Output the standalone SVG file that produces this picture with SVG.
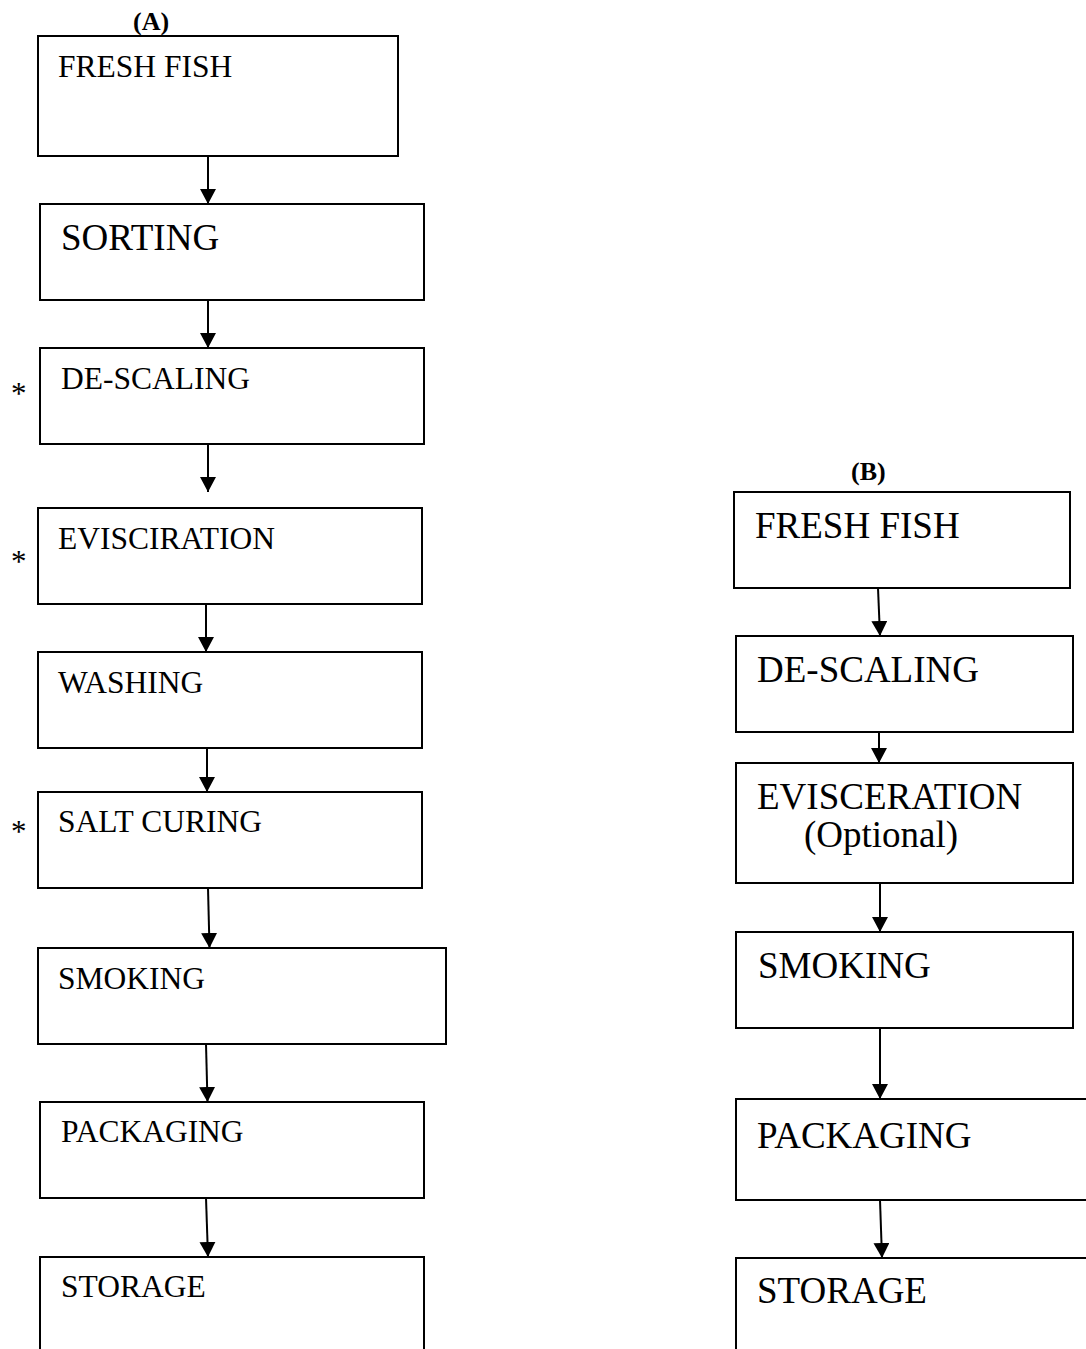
<svg xmlns="http://www.w3.org/2000/svg" width="1086" height="1349" viewBox="0 0 1086 1349">
<style>
  .box { fill: #fff; stroke: #000; stroke-width: 2; }
  .t { font-family: "Liberation Serif", "Times New Roman", serif; fill: #000; }
  .s { font-size: 31.5px; }
  .l { font-size: 37px; }
  .h { font-size: 26px; font-weight: bold; }
  .ast { font-size: 31px; }
  .arr { stroke: #000; stroke-width: 2; fill: none; marker-end: url(#ah); }
</style>
<defs>
  <marker id="ah" markerUnits="userSpaceOnUse" markerWidth="17" markerHeight="17" refX="15" refY="8" orient="auto">
    <path d="M0,0 L15,8 L0,16 z" fill="#000"/>
  </marker>
</defs>
<rect width="1086" height="1349" fill="#fff"/>

<g id="connectors">
  <line class="arr" x1="208" y1="156" x2="208" y2="204"/>
  <line class="arr" x1="208" y1="300" x2="208" y2="348"/>
  <line class="arr" x1="208" y1="444" x2="208" y2="492"/>
  <line class="arr" x1="206" y1="604" x2="206" y2="652"/>
  <line class="arr" x1="207" y1="748" x2="207" y2="792"/>
  <line class="arr" x1="208" y1="888" x2="209.5" y2="948"/>
  <line class="arr" x1="206" y1="1044" x2="207.5" y2="1102"/>
  <line class="arr" x1="206" y1="1198" x2="208" y2="1257"/>
  <line class="arr" x1="878" y1="588" x2="880" y2="636"/>
  <line class="arr" x1="879" y1="732" x2="879" y2="763"/>
  <line class="arr" x1="880" y1="883" x2="880" y2="932"/>
  <line class="arr" x1="880" y1="1028" x2="880" y2="1099"/>
  <line class="arr" x1="880" y1="1200" x2="882" y2="1258"/>
</g>

<g id="labels">
  <text class="t h" x="133" y="30">(A)</text>
  <text class="t h" x="851" y="480">(B)</text>
  <text class="t ast" x="11" y="404">*</text>
  <text class="t ast" x="11" y="572">*</text>
  <text class="t ast" x="11" y="842">*</text>
</g>

<g id="a-fresh-fish"><rect class="box" x="38" y="36" width="360" height="120"/><text class="t s" x="58" y="77">FRESH FISH</text></g>
<g id="a-sorting"><rect class="box" x="40" y="204" width="384" height="96"/><text class="t l" x="61" y="250">SORTING</text></g>
<g id="a-descaling"><rect class="box" x="40" y="348" width="384" height="96"/><text class="t s" x="61" y="389">DE-SCALING</text></g>
<g id="a-evisciration"><rect class="box" x="38" y="508" width="384" height="96"/><text class="t s" x="58" y="549">EVISCIRATION</text></g>
<g id="a-washing"><rect class="box" x="38" y="652" width="384" height="96"/><text class="t s" x="58" y="693">WASHING</text></g>
<g id="a-salt-curing"><rect class="box" x="38" y="792" width="384" height="96"/><text class="t s" x="58" y="832">SALT CURING</text></g>
<g id="a-smoking"><rect class="box" x="38" y="948" width="408" height="96"/><text class="t s" x="58" y="989">SMOKING</text></g>
<g id="a-packaging"><rect class="box" x="40" y="1102" width="384" height="96"/><text class="t s" x="61" y="1142">PACKAGING</text></g>
<g id="a-storage"><rect class="box" x="40" y="1257" width="384" height="140"/><text class="t s" x="61" y="1297">STORAGE</text></g>

<g id="b-fresh-fish"><rect class="box" x="734" y="492" width="336" height="96"/><text class="t l" x="755" y="538">FRESH FISH</text></g>
<g id="b-descaling"><rect class="box" x="736" y="636" width="337" height="96"/><text class="t l" x="757" y="682">DE-SCALING</text></g>
<g id="b-evisceration"><rect class="box" x="736" y="763" width="337" height="120"/><text class="t l" x="757" y="809">EVISCERATION</text><text class="t l" x="804" y="847">(Optional)</text></g>
<g id="b-smoking"><rect class="box" x="736" y="932" width="337" height="96"/><text class="t l" x="758" y="978">SMOKING</text></g>
<g id="b-packaging"><rect class="box" x="736" y="1099" width="400" height="101"/><text class="t l" x="757" y="1148">PACKAGING</text></g>
<g id="b-storage"><rect class="box" x="736" y="1258" width="400" height="150"/><text class="t l" x="757" y="1303">STORAGE</text></g>
</svg>
